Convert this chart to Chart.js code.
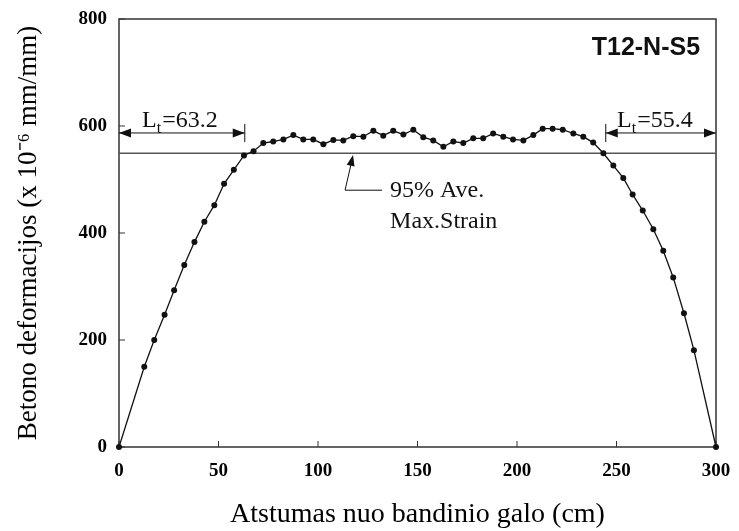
<!DOCTYPE html>
<html lang="lt">
<head>
<meta charset="UTF-8">
<title>T12-N-S5</title>
<script src="https://cdn.jsdelivr.net/npm/chart.js"></script>
<style>
  body { margin: 0; background: #fff; }
  canvas { display: block; }
</style>
</head>
<body>
<canvas id="grafikas" width="739" height="531"></canvas>
<script>
// matavimai (cm, x 10^-6 mm/mm)
const atstumas = [0, 12.7, 17.7, 22.9, 27.7, 32.8, 37.9, 42.9, 47.9, 52.8, 57.7, 62.8, 67.6,
  72.5, 77.5, 82.6, 87.6, 92.6, 97.6, 102.7, 107.7, 112.7, 117.7, 122.8, 127.8, 132.8, 137.8,
  142.9, 147.9, 152.9, 157.9, 163.0, 168.0, 173.0, 178.0, 183.0, 188.0, 193.1, 198.0, 203.2,
  208.2, 212.9, 217.9, 223.0, 228.3, 233.3, 238.3, 243.4, 248.4, 253.4, 258.1, 263.2, 268.5,
  273.5, 278.5, 283.9, 288.9, 300];
const deformacija = [0, 150, 200, 247, 293, 340, 383, 421, 452, 492, 518, 545, 553,
  568, 571, 575, 583, 575, 575, 566, 574, 573, 581, 580, 591, 582, 591,
  584, 593, 579, 573, 561, 571, 568, 577, 577, 586, 580, 575, 573,
  583, 595, 595, 593, 586, 580, 569, 549, 526, 503, 472, 442, 407,
  367, 317, 250, 181, 0];
const xTicks = [0, 50, 100, 150, 200, 250, 300];
const yTicks = [0, 200, 400, 600, 800];
const riba95 = 549;      // 95% Ave. Max.Strain
const ltKaire = 63.2;
const ltDesine = 55.4;

const serif = "'Liberation Serif', 'Times New Roman', serif";

function galvute(ctx, fx, fy, tx, ty, ilgis, plotis) {
  const a = Math.atan2(ty - fy, tx - fx);
  const bx = tx - ilgis * Math.cos(a), by = ty - ilgis * Math.sin(a);
  const px = -Math.sin(a) * plotis, py = Math.cos(a) * plotis;
  ctx.beginPath();
  ctx.moveTo(tx, ty);
  ctx.lineTo(bx + px, by + py);
  ctx.lineTo(bx - px, by - py);
  ctx.closePath();
  ctx.fill();
}

function ltTekstas(ctx, x0, y0, reiksme) {
  ctx.font = '24px ' + serif;
  ctx.fillText('L', x0, y0);
  let w = ctx.measureText('L').width;
  ctx.font = '16px ' + serif;
  ctx.fillText('t', x0 + w, y0 + 6);
  w += ctx.measureText('t').width + 1;
  ctx.font = '24px ' + serif;
  ctx.fillText('=' + reiksme, x0 + w, y0);
}

const piesiniai = {
  id: 'piesiniai',
  beforeDatasetsDraw(chart) {
    const {ctx, chartArea: a, scales: {x, y}} = chart;
    ctx.save();
    ctx.strokeStyle = '#333';
    ctx.lineWidth = 1.5;
    ctx.strokeRect(a.left, a.top, a.right - a.left, a.bottom - a.top);
    ctx.lineWidth = 1;
    ctx.beginPath();
    xTicks.forEach(v => {
      const px = x.getPixelForValue(v);
      ctx.moveTo(px, a.bottom); ctx.lineTo(px, a.bottom - 6);
    });
    yTicks.forEach(v => {
      const py = y.getPixelForValue(v);
      ctx.moveTo(a.left, py); ctx.lineTo(a.left + 6, py);
    });
    ctx.stroke();
    ctx.restore();
  },
  afterDraw(chart) {
    const {ctx, scales: {x, y}} = chart;
    const X = v => x.getPixelForValue(v), Y = v => y.getPixelForValue(v);
    ctx.save();
    ctx.fillStyle = '#111';
    ctx.strokeStyle = '#111';
    ctx.lineWidth = 1;

    // Lt rodyklės
    const yr = Y(587);
    ctx.beginPath();
    ctx.moveTo(X(0), yr); ctx.lineTo(X(ltKaire), yr);
    ctx.moveTo(X(ltKaire), Y(604)); ctx.lineTo(X(ltKaire), Y(570));
    ctx.moveTo(X(300 - ltDesine), yr); ctx.lineTo(X(300), yr);
    ctx.moveTo(X(300 - ltDesine), Y(604)); ctx.lineTo(X(300 - ltDesine), Y(570));
    ctx.stroke();
    galvute(ctx, X(20), yr, X(0), yr, 12, 4.5);
    galvute(ctx, X(40), yr, X(ltKaire), yr, 12, 4.5);
    galvute(ctx, X(270), yr, X(300 - ltDesine), yr, 12, 4.5);
    galvute(ctx, X(280), yr, X(300), yr, 12, 4.5);

    ctx.textBaseline = 'alphabetic';
    ltTekstas(ctx, X(11.6), Y(598), ltKaire.toFixed(1));
    ltTekstas(ctx, X(250.3), Y(598), ltDesine.toFixed(1));

    // 95% nuoroda
    ctx.beginPath();
    ctx.moveTo(X(132.2), Y(480));
    ctx.lineTo(X(113.6), Y(480));
    ctx.lineTo(X(117.3), Y(540));
    ctx.stroke();
    galvute(ctx, X(113.6), Y(480), X(117.6), Y(546), 11, 4);
    ctx.font = '24px ' + serif;
    ctx.fillText('95% Ave.', X(136.2), Y(467));
    ctx.fillText('Max.Strain', X(136.2), Y(409));

    // bandinio pavadinimas
    ctx.font = "bold 25px 'Liberation Sans', Arial, sans-serif";
    ctx.textAlign = 'right';
    ctx.fillText('T12-N-S5', X(292), Y(733));
    ctx.restore();
  }
};

const ctx = document.getElementById('grafikas').getContext('2d');
new Chart(ctx, {
  type: 'scatter',
  data: {
    datasets: [{
      label: 'Deformacija',
      data: atstumas.map((v, i) => ({x: v, y: deformacija[i]})),
      showLine: true,
      clip: false,
      borderColor: '#111',
      borderWidth: 1.3,
      backgroundColor: '#111',
      pointRadius: 3,
      pointBorderWidth: 0
    }, {
      label: '95% Ave. Max.Strain',
      data: [{x: 0, y: riba95}, {x: 300, y: riba95}],
      showLine: true,
      borderColor: '#555',
      borderWidth: 1.5,
      pointRadius: 0
    }]
  },
  options: {
    responsive: false,
    animation: false,
    layout: { padding: { top: 19, right: 23, left: 0, bottom: 0 } },
    plugins: { legend: { display: false }, tooltip: { enabled: false } },
    scales: {
      x: {
        type: 'linear', min: 0, max: 300,
        afterBuildTicks: s => { s.ticks = xTicks.map(v => ({value: v})); },
        afterFit: s => { s.height = 84; },
        grid: { display: false },
        border: { display: false },
        ticks: { color: '#000', padding: 5, font: { family: serif, size: 19, weight: 'bold' } },
        title: {
          display: true,
          text: 'Atstumas nuo bandinio galo (cm)',
          color: '#000',
          font: { family: serif, size: 28 },
          padding: { top: 0, bottom: 0 }
        }
      },
      y: {
        min: 0, max: 800,
        afterBuildTicks: s => { s.ticks = yTicks.map(v => ({value: v})); },
        afterFit: s => { s.width = 119; },
        grid: { display: false },
        border: { display: false },
        ticks: { color: '#000', padding: 4, font: { family: serif, size: 19, weight: 'bold' } },
        title: {
          display: true,
          text: 'Betono deformacijos (x 10⁻⁶ mm/mm)',
          color: '#000',
          font: { family: serif, size: 27 },
          padding: { top: 13, bottom: 0 }
        }
      }
    }
  },
  plugins: [piesiniai]
});
</script>
</body>
</html>
